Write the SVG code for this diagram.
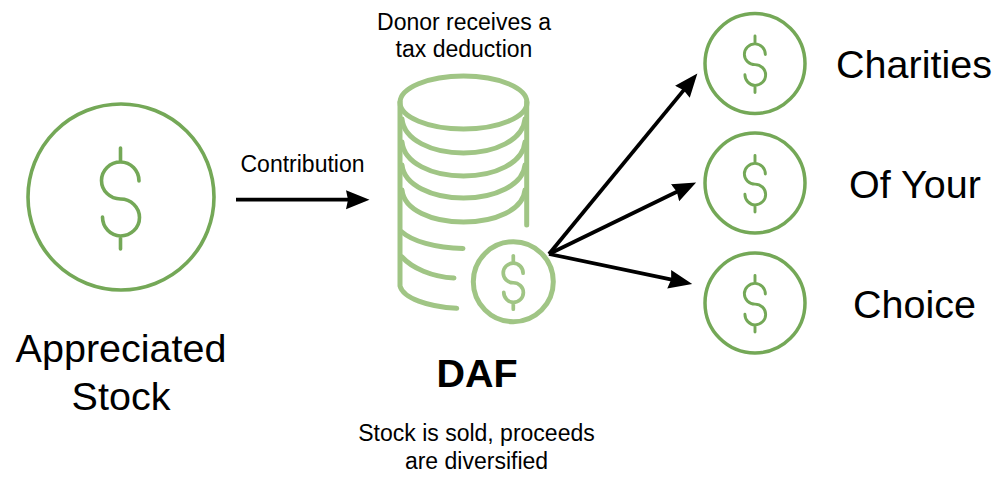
<svg xmlns="http://www.w3.org/2000/svg" width="1000" height="483" viewBox="0 0 1000 483">
<style>
text{font-family:"Liberation Sans",Arial,sans-serif;fill:#000;text-anchor:middle}
.s{font-size:23px}.l{font-size:39.5px}.b{font-size:39.500px;font-weight:bold}
.g{fill:none;stroke:#74a857;stroke-linecap:round}
.c{fill:none;stroke:#a0c585;stroke-linecap:round;stroke-width:5}
.a{fill:none;stroke:#000;stroke-width:3.8;marker-end:url(#h)}
</style>
<defs>
<marker id="h" markerUnits="userSpaceOnUse" markerWidth="26" markerHeight="22" viewBox="0 -11 26 22" refX="5" refY="0" orient="auto"><path d="M0 -9.5L23.500 0L0 9.5L2 0Z" fill="#000"/></marker>
<path id="d" d="M0 -49V-35M18.500 -16A18.500 19 0 0 0 0 -35A19 18.500 0 0 0 0 2A19 18.500 0 0 1 0 39A18.500 19 0 0 1 -18 20M0 39V52"/>
</defs>
<rect width="1000" height="483" fill="#fff"/>
<g id="stock">
<circle class="g" cx="121" cy="197" r="93" stroke-width="3.600"/>
<use href="#d" class="g" transform="translate(120.500 197)" stroke-width="3.600"/>
<text class="l" x="121" y="362">Appreciated</text>
<text class="l" x="121" y="410">Stock</text>
</g>
<g id="daf">
<ellipse class="c" cx="463.500" cy="102.500" rx="63.500" ry="26.500"/>
<path class="c" d="M400 102V286C403 298 428 307 456.700 308.300M526.700 102V225"/>
<path class="c" d="M402 119C404 140 432 153 463.500 153C495 153 523 140 525 119"/>
<path class="c" d="M402 142C404 163 432 176 463.500 176C495 176 523 163 525 142"/>
<path class="c" d="M402 165C404 185 432 198 463.500 198C495 198 523 185 525 165"/>
<path class="c" d="M402 190C404 210 432 222 463.500 222C495 222 523 210 525 190"/>
<path class="c" d="M402 232C412 241 435 248 463 248.500M402 257C412 268 432 277 454 278"/>
<circle class="c" cx="513.300" cy="281.700" r="40"/>
<use href="#d" class="c" transform="translate(513.300 281.700) scale(.53)" style="stroke-width:7"/>
<text class="b" x="477" y="387">DAF</text>
</g>
<g id="notes">
<text class="s" x="464" y="30">Donor receives a</text>
<text class="s" x="464" y="57">tax deduction</text>
<text class="s" x="476.500" y="441">Stock is sold, proceeds</text>
<text class="s" x="476.500" y="468.500">are diversified</text>
</g>
<g id="charity1">
<circle class="g" cx="755" cy="63.500" r="50" stroke-width="3.500"/>
<use href="#d" class="g" transform="translate(755 63.500) scale(.56)" stroke-width="5.200"/>
<text class="l" x="914" y="77.500">Charities</text>
</g>
<g id="charity2">
<circle class="g" cx="755" cy="183" r="50" stroke-width="3.500"/>
<use href="#d" class="g" transform="translate(755 183) scale(.56)" stroke-width="5.200"/>
<text class="l" x="915" y="197.500">Of Your</text>
</g>
<g id="charity3">
<circle class="g" cx="755" cy="303" r="50" stroke-width="3.500"/>
<use href="#d" class="g" transform="translate(755 303) scale(.56)" stroke-width="5.200"/>
<text class="l" x="914.500" y="317.500">Choice</text>
</g>
<g id="connectors">
<path class="a" d="M236 199.700H351"/>
<path class="a" d="M549 254L685.600 87.900"/>
<path class="a" d="M549 254L679.500 190.500"/>
<path class="a" d="M549 254L674.100 280.200"/>
</g>
<text class="s" x="302.500" y="172">Contribution</text>
</svg>
